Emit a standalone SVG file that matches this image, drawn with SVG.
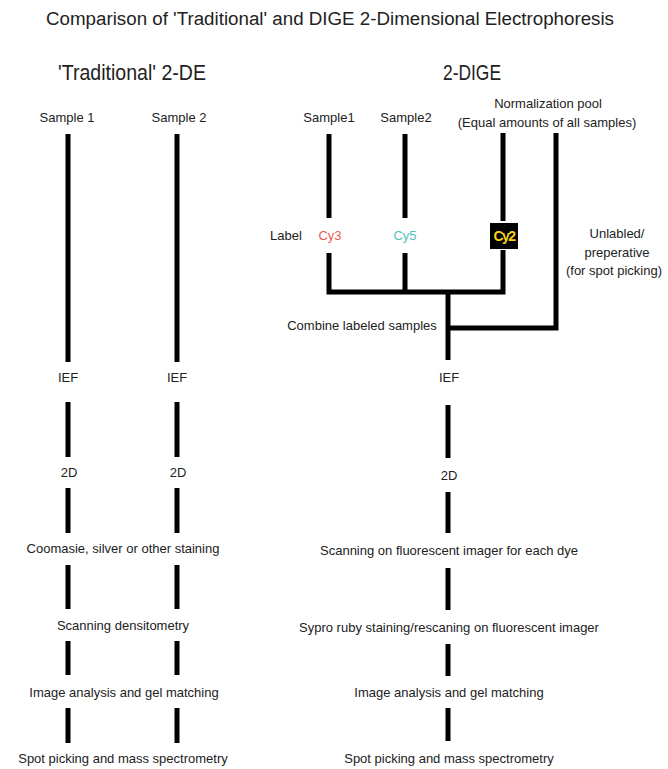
<svg xmlns="http://www.w3.org/2000/svg" width="668" height="769" viewBox="0 0 668 769">
<style>
text{font-family:"Liberation Sans",Arial,sans-serif;fill:#222;}
.t{font-size:18px;}
.h{font-size:22px;}
.s{font-size:13px;text-anchor:middle;}
.bar{stroke:#000;stroke-width:5;fill:none;stroke-linecap:butt;stroke-linejoin:miter;}
</style>
<rect width="668" height="769" fill="#fff"/>
<g id="title"><text class="t" x="46" y="25" textLength="568" lengthAdjust="spacingAndGlyphs">Comparison of 'Traditional' and DIGE 2-Dimensional Electrophoresis</text></g>
<g id="heading-traditional"><text class="h" x="58" y="80" textLength="148" lengthAdjust="spacingAndGlyphs">'Traditional' 2-DE</text></g>
<g id="heading-dige"><text class="h" x="443" y="80" textLength="58" lengthAdjust="spacingAndGlyphs">2-DIGE</text></g>

<g id="connectors">
<path class="bar" d="M68 134V362M68 402V457M68 488V533M68 565V609M68 641V675M68 708V743"/>
<path class="bar" d="M177 134V362M177 402V457M177 488V533M177 565V609M177 641V675M177 708V743"/>
<path class="bar" d="M329 134V218M405 134V218M503 133V221"/>
<path class="bar" d="M329 253V292H503V250M405 253V292"/>
<path class="bar" d="M448 292V360"/>
<path class="bar" d="M556 133V328H448"/>
<path class="bar" d="M448 405V458M448 492V533M448 568V610M448 644V676M448 708V741"/>
</g>

<g id="t-sample1"><text class="s" x="67" y="122">Sample 1</text></g>
<g id="t-sample2"><text class="s" x="179" y="122">Sample 2</text></g>
<g id="t-ief1"><text class="s" x="68" y="382">IEF</text></g>
<g id="t-ief2"><text class="s" x="177" y="382">IEF</text></g>
<g id="t-2d1"><text class="s" x="69" y="477">2D</text></g>
<g id="t-2d2"><text class="s" x="178" y="477">2D</text></g>
<g id="t-stain"><text class="s" x="123" y="553">Coomasie, silver or other staining</text></g>
<g id="t-dens"><text class="s" x="123" y="630">Scanning densitometry</text></g>
<g id="t-img1"><text class="s" x="124" y="697">Image analysis and gel matching</text></g>
<g id="t-spot1"><text class="s" x="123" y="763">Spot picking and mass spectrometry</text></g>

<g id="d-sample1"><text class="s" x="329" y="122">Sample1</text></g>
<g id="d-sample2"><text class="s" x="406" y="122">Sample2</text></g>
<g id="d-pool"><text class="s" x="548" y="108">Normalization pool</text><text class="s" x="547" y="127">(Equal amounts of all samples)</text></g>
<g id="d-label"><text class="s" x="286" y="240">Label</text></g>
<g id="d-cy3"><text class="s" x="330" y="240" style="fill:#ec5a52">Cy3</text></g>
<g id="d-cy5"><text class="s" x="405" y="240" style="fill:#52c2bd">Cy5</text></g>
<g id="d-cy2"><rect x="490" y="223" width="28" height="26" fill="#000"/><text x="504" y="241" style="font-size:14px;font-weight:bold;fill:#f7d417;text-anchor:middle;letter-spacing:-1.5px">Cy2</text></g>
<g id="d-unlabeled"><text class="s" x="617" y="238">Unlabled/</text><text class="s" x="617" y="257">preperative</text><text class="s" x="614" y="275">(for spot picking)</text></g>
<g id="d-combine"><text class="s" x="362" y="330">Combine labeled samples</text></g>
<g id="d-ief"><text class="s" x="449" y="382">IEF</text></g>
<g id="d-2d"><text class="s" x="449" y="480">2D</text></g>
<g id="d-scan"><text class="s" x="449" y="555">Scanning on fluorescent imager for each dye</text></g>
<g id="d-sypro"><text class="s" x="449" y="632">Sypro ruby staining/rescaning on fluorescent imager</text></g>
<g id="d-img"><text class="s" x="449" y="697">Image analysis and gel matching</text></g>
<g id="d-spot"><text class="s" x="449" y="763">Spot picking and mass spectrometry</text></g>
</svg>
